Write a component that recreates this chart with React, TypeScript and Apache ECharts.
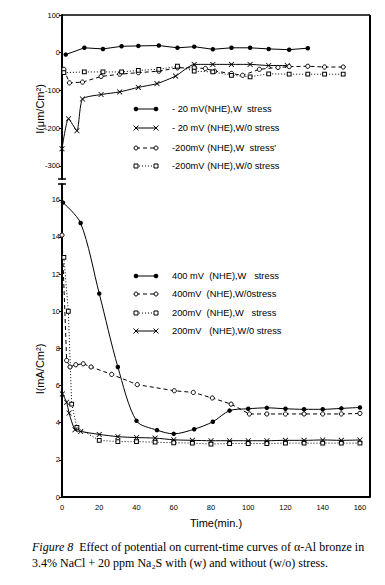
import React, { useEffect, useRef } from "react";
import * as echarts from "echarts";

// ---- data (time in min, value) ----
const topTicks = [100, 0, -100, -200, -300];
const bottomTicks = [0, 2, 4, 6, 8, 10, 12, 14, 16];

const m20W: [number, number][] = [[2, -5], [12, 13], [22, 10], [32, 17], [41, 18], [52, 19], [62, 13], [71, 16], [81, 9], [91, 13], [101, 13], [111, 10], [122, 8], [132, 12]];
const m20Wo: [number, number][] = [[0, -255], [3.5, -175], [8, -207], [11, -123], [21, -111], [31, -104], [41, -92], [51, -82], [61, -62], [71, -31], [81, -31], [91, -31], [101, -31], [111, -34], [121, -34]];
const m200W: [number, number][] = [[1, -44], [4, -80], [11, -78], [21, -63], [31, -57], [41, -53], [52, -49], [62, -40], [71, -40], [77, -42], [82, -49], [91, -55], [97, -60], [106, -44], [116, -39], [122, -37], [132, -36], [141, -38], [151, -38]];
const m200Wo: [number, number][] = [[1, -53], [12, -51], [22, -51], [32, -51], [41, -47], [52, -44], [62, -36], [71, -49], [81, -51], [91, -60], [101, -64], [111, -56], [122, -57], [132, -57], [141, -57], [151, -57]];

const p400W: [number, number][] = [[0.5, 15.85], [10, 14.75], [20, 10.95], [30, 7.0], [40, 4.1], [51, 3.6], [60, 3.4], [71, 3.65], [81, 4.05], [90, 4.65], [100, 4.75], [110, 4.8], [120, 4.75], [130, 4.72], [140, 4.72], [150, 4.77], [160, 4.82]];
const p400Wo: [number, number][] = [[0, 14.1], [2.5, 7.35], [4.3, 7.0], [7.4, 7.12], [11.4, 7.17], [15.6, 7.0], [26.7, 6.6], [40.4, 6.05], [60.3, 5.72], [70.5, 5.63], [80.7, 5.33], [90.8, 5.0], [100.6, 4.47], [110, 4.47], [120, 4.47], [130, 4.47], [140, 4.47], [150, 4.47], [160, 4.5]];
const p200W: [number, number][] = [[1, 12.9], [3.4, 10.0], [5.2, 5.0], [8, 3.75], [20, 3.05], [30, 2.98], [40, 2.98], [50, 2.95], [60, 2.92], [70, 2.9], [80, 2.85], [90, 2.88], [100, 2.88], [110, 2.88], [120, 2.9], [130, 2.9], [140, 2.9], [150, 2.9], [160, 2.9]];
const p200Wo: [number, number][] = [[0.2, 5.55], [2.5, 5.1], [3.8, 4.52], [7, 3.62], [10, 3.53], [20, 3.37], [30, 3.25], [40, 3.2], [50, 3.17], [60, 3.08], [70, 3.05], [80, 3.03], [90, 3.03], [100, 3.03], [110, 3.03], [120, 3.05], [130, 3.05], [140, 3.07], [150, 3.05], [160, 3.07]];

const topLabels = ["- 20 mV(NHE),W  stress", "- 20 mV (NHE),W/0 stress", "-200mV (NHE),W  stress'", "-200mV (NHE),W/0 stress"];
const bottomLabels = ["400 mV  (NHE),W   stress", "400mV  (NHE),W/0stress", "200mV  (NHE),W   stress", "200mV   (NHE),W/0 stress"];

const SANS = '"Liberation Sans", Arial, sans-serif';
const SERIF = '"Liberation Serif", "Times New Roman", serif';
const CROSS = "path://M0,1L1,0L5,4L9,0L10,1L6,5L10,9L9,10L5,6L1,10L0,9L4,5Z";

type Mk = "dot" | "ring" | "square" | "cross";
type Ds = "solid" | "dashed" | "dotted";

const dashOf = (d: Ds): any => (d === "solid" ? "solid" : d === "dashed" ? [4, 3] : [1, 2]);

function symbolOf(m: Mk) {
  if (m === "dot") return { symbol: "circle", symbolSize: 4.5, itemStyle: { color: "#000" } };
  if (m === "ring") return { symbol: "circle", symbolSize: 4.2, itemStyle: { color: "#fff", borderColor: "#000", borderWidth: 1 } };
  if (m === "square") return { symbol: "rect", symbolSize: 3.8, itemStyle: { color: "#fff", borderColor: "#000", borderWidth: 1 } };
  return { symbol: CROSS, symbolSize: 5.5, itemStyle: { color: "#000" } };
}

function mkSeries(name: string, data: [number, number][], idx: number, dash: Ds, mk: Mk, smooth: number | boolean = false) {
  return {
    type: "line",
    name,
    xAxisIndex: idx,
    yAxisIndex: idx,
    data,
    smooth,
    ...symbolOf(mk),
    lineStyle: { color: "#000", width: 1, type: dashOf(dash) },
    emphasis: { disabled: true },
    silent: true,
  };
}

function markerEls(mk: Mk, x: number, y: number): any[] {
  if (mk === "dot") return [{ type: "circle", z: 20, shape: { cx: x, cy: y, r: 2.3 }, style: { fill: "#000" } }];
  if (mk === "ring") return [{ type: "circle", z: 20, shape: { cx: x, cy: y, r: 2 }, style: { fill: "#fff", stroke: "#000", lineWidth: 1 } }];
  if (mk === "square") return [{ type: "rect", z: 20, shape: { x: x - 2, y: y - 2, width: 4, height: 4 }, style: { fill: "#fff", stroke: "#000", lineWidth: 1 } }];
  return [
    { type: "line", z: 20, shape: { x1: x - 2.5, y1: y - 2.5, x2: x + 2.5, y2: y + 2.5 }, style: { stroke: "#000", lineWidth: 1 } },
    { type: "line", z: 20, shape: { x1: x + 2.5, y1: y - 2.5, x2: x - 2.5, y2: y + 2.5 }, style: { stroke: "#000", lineWidth: 1 } },
  ];
}

function legendRow(y: number, dash: Ds, mk: Mk, label: string): any[] {
  const x1 = 136, x2 = 156;
  return [
    { type: "line", z: 19, shape: { x1, y1: y, x2, y2: y }, style: { stroke: "#000", lineWidth: 1, lineDash: dash === "solid" ? null : dashOf(dash) } },
    ...markerEls(mk, x1, y),
    ...markerEls(mk, x2, y),
    {
      type: "text", z: 20, x: 172, y,
      style: { text: label, fill: "#000", fontSize: 9.3, fontFamily: SANS, textAlign: "left", textVerticalAlign: "middle", align: "left", verticalAlign: "middle" },
    },
  ];
}

function textEl(text: string, x: number, y: number, size: number, opts: any = {}): any {
  return {
    type: "text", x, y, z: 20, rotation: opts.rotation || 0,
    style: {
      text, fill: "#000", fontSize: size, fontFamily: opts.family || SANS,
      textAlign: opts.align || "center", align: opts.align || "center",
      textVerticalAlign: "middle", verticalAlign: "middle",
      rich: opts.rich,
    },
  };
}

export default function App() {
  const ref = useRef<HTMLDivElement>(null);
  useEffect(() => {
    if (!ref.current) return;
    const chart = echarts.init(ref.current, null as any, { renderer: "svg" });
    const axisLabelStyle = { color: "#000", fontSize: 7.5, fontFamily: SANS };
    const topRows: [Ds, Mk][] = [["solid", "dot"], ["solid", "cross"], ["dashed", "ring"], ["dotted", "square"]];
    const botRows: [Ds, Mk][] = [["solid", "dot"], ["dashed", "ring"], ["dotted", "square"], ["solid", "cross"]];
    const topY = [109, 128, 148, 166];
    const botY = [276, 294, 313, 331];
    const option: any = {
      animation: false,
      backgroundColor: "#fff",
      grid: [
        { left: 62, top: 15, width: 308, height: 164 },
        { left: 62, top: 184, width: 308, height: 313 },
      ],
      xAxis: [
        { gridIndex: 0, type: "value", min: 0, max: 165.4, show: false },
        {
          gridIndex: 1, type: "value", min: 0, max: 165.4, interval: 20,
          axisLine: { show: true, lineStyle: { color: "#000", width: 2 } },
          axisTick: { show: false },
          splitLine: { show: false },
          axisLabel: { ...axisLabelStyle, margin: 6, showMaxLabel: false },
          name: "Time(min.)", nameLocation: "middle", nameGap: 20,
          nameTextStyle: { color: "#000", fontSize: 11, fontFamily: SANS },
        },
      ],
      yAxis: [
        {
          gridIndex: 0, type: "value", min: -335, max: 100,
          axisLine: { show: true, lineStyle: { color: "#000", width: 2 } },
          axisTick: { show: true, length: 3, customValues: topTicks, lineStyle: { color: "#000" } },
          axisLabel: { ...axisLabelStyle, margin: 2, customValues: topTicks },
          splitLine: { show: false },
        },
        {
          gridIndex: 1, type: "value", min: 0, max: 16.85,
          axisLine: { show: true, lineStyle: { color: "#000", width: 2 } },
          axisTick: { show: true, length: 3, customValues: bottomTicks, lineStyle: { color: "#000" } },
          axisLabel: { ...axisLabelStyle, margin: 2, customValues: bottomTicks },
          splitLine: { show: false },
        },
      ],
      series: [
        mkSeries(topLabels[0], m20W, 0, "solid", "dot"),
        mkSeries(topLabels[1], m20Wo, 0, "solid", "cross", 0.2),
        mkSeries(topLabels[2], m200W, 0, "dashed", "ring"),
        mkSeries(topLabels[3], m200Wo, 0, "dotted", "square"),
        mkSeries(bottomLabels[0], p400W, 1, "solid", "dot", 0.3),
        mkSeries(bottomLabels[1], p400Wo, 1, "dashed", "ring"),
        mkSeries(bottomLabels[2], p200W, 1, "dotted", "square"),
        mkSeries(bottomLabels[3], p200Wo, 1, "solid", "cross", 0.3),
      ],
      graphic: [
        { type: "line", z: 10, shape: { x1: 62, y1: 15, x2: 370, y2: 15 }, style: { stroke: "#000", lineWidth: 1.5 } },
        { type: "line", z: 10, shape: { x1: 370, y1: 15, x2: 370, y2: 497 }, style: { stroke: "#000", lineWidth: 2 } },
        { type: "line", z: 10, shape: { x1: 58, y1: 179, x2: 66, y2: 179 }, style: { stroke: "#000", lineWidth: 1.5 } },
        { type: "line", z: 10, shape: { x1: 58, y1: 184, x2: 66, y2: 184 }, style: { stroke: "#000", lineWidth: 1.5 } },
        textEl("I(\u03bcm/Cm\u00b2)", 40, 109, 11, { rotation: Math.PI / 2 }),
        textEl("I(mA/Cm\u00b2)", 40, 369, 11, { rotation: Math.PI / 2 }),
        ...topRows.flatMap((r, i) => legendRow(topY[i], r[0], r[1], topLabels[i])),
        ...botRows.flatMap((r, i) => legendRow(botY[i], r[0], r[1], bottomLabels[i])),
        textEl("{i|Figure 8}  Effect of potential on current-time curves of \u03b1-Al bronze in", 32, 547, 12, {
          align: "left", family: SERIF,
          rich: { i: { fontStyle: "italic", fontSize: 12, fontFamily: SERIF } },
        }),
        textEl("3.4% NaCl + 20 ppm Na\u2082S with (w) and without (w/o) stress.", 32, 563, 12, { align: "left", family: SERIF }),
      ],
    };
    chart.setOption(option);
    return () => chart.dispose();
  }, []);
  return (
    <div
      ref={ref}
      style={{ position: "absolute", left: 0, top: 0, width: 385, height: 585, background: "#fff" }}
    />
  );
}
